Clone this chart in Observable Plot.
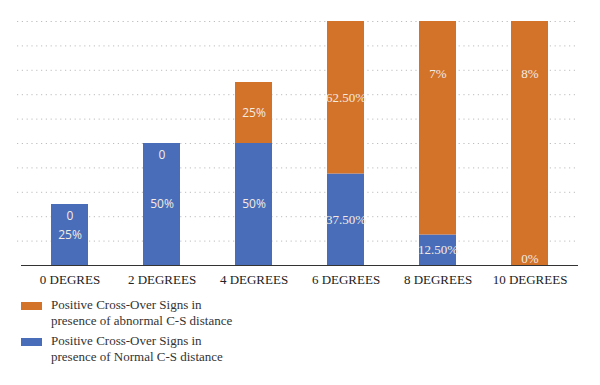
<!DOCTYPE html>
<html>
<head>
<meta charset="utf-8">
<script src="https://cdn.jsdelivr.net/npm/d3@7"></script>
<script src="https://cdn.jsdelivr.net/npm/@observablehq/plot@0.6"></script>
<style>
  body { margin: 0; background: #fff; font-family: "Liberation Serif", "Times New Roman", Times, serif; }
  #chart svg { display: block; }
  .legend { margin-top: 7px; padding-left: 21px; font-size: 13px; line-height: 16px; color: #333; }
  .item { display: flex; align-items: flex-start; margin-bottom: 4px; }
  .sw { width: 21px; height: 8px; margin-top: 5px; margin-right: 9px; flex: none; }
</style>
</head>
<body>
<div id="chart"></div>
<div class="legend" id="legend"></div>
<script>
const categories = ["0 DEGRES", "2 DEGREES", "4 DEGREES", "6 DEGREES", "8 DEGREES", "10 DEGREES"];
const normalValues = [25, 50, 50, 37.5, 12.5, 0];
const abnormalValues = [0, 0, 25, 62.5, 87.5, 100];
const normalLabels = ["25%", "50%", "50%", "37.50%", "12.50%", "0%"];
const abnormalLabels = ["0", "0", "25%", "62.50%", "7%", "8%"];
// label anchors (in % units) read from the picture where they are not centred
const abnormalLabelAt = [null, null, null, null, 78.75, 78.75];
const seriesNames = [
  "Positive Cross-Over Signs in presence of abnormal C-S distance",
  "Positive Cross-Over Signs in presence of Normal C-S distance"
];
const seriesColors = ["#d37229", "#4a6dba"];
const yTicks = [10, 20, 30, 40, 50, 60, 70, 80, 90, 100];

const blue = categories.map((c, i) => ({x: c, y1: 0, y2: normalValues[i], label: normalLabels[i], i}));
const orange = categories.map((c, i) => ({x: c, y1: normalValues[i], y2: normalValues[i] + abnormalValues[i], label: abnormalLabels[i], i}));

const sansFont = "'Open Sans', sans-serif";
const serifFont = "'Liberation Serif', 'Times New Roman', Times, serif";

const mid = d => d.y2 === d.y1 ? d.y1 : (d.y1 + d.y2) / 2;
const blueText = blue.map(d => ({...d, ym: mid(d), zero: d.y2 === d.y1}));
const orangeText = orange.map(d => ({...d, ym: abnormalLabelAt[d.i] != null ? abnormalLabelAt[d.i] : mid(d), zero: d.y2 === d.y1}));

const textMarks = (arr, zeroDy) => [
  Plot.text(arr.filter(d => !d.zero && d.i < 3), {x: "x", y: "ym", text: "label", fill: "#f4ece0", fontSize: 12, fontFamily: sansFont}),
  Plot.text(arr.filter(d => !d.zero && d.i >= 3), {x: "x", y: "ym", text: "label", fill: "#f4ece0", fontSize: 13, fontFamily: serifFont}),
  Plot.text(arr.filter(d => d.zero && d.i < 3), {x: "x", y: "ym", text: "label", fill: "#f4ece0", fontSize: 12, dy: zeroDy, fontFamily: sansFont}),
  Plot.text(arr.filter(d => d.zero && d.i >= 3), {x: "x", y: "ym", text: "label", fill: "#f4ece0", fontSize: 13, dy: zeroDy, fontFamily: serifFont})
];

const plot = Plot.plot({
  width: 600,
  height: 290,
  marginTop: 21,
  marginBottom: 25,
  marginLeft: 21,
  marginRight: 22,
  style: {fontFamily: serifFont, fontSize: "13px", color: "#222", background: "#fff"},
  x: {domain: categories, paddingInner: 0.6, paddingOuter: 0.3, label: null, tickSize: 0, tickPadding: 9},
  y: {domain: [0, 100], axis: null},
  marks: [
    Plot.ruleY(yTicks, {stroke: "#bdbdbd", strokeDasharray: "1.2,3.6", insetLeft: -4}),
    Plot.barY(blue, {x: "x", y1: "y1", y2: "y2", fill: seriesColors[1]}),
    Plot.barY(orange, {x: "x", y1: "y1", y2: "y2", fill: seriesColors[0]}),
    Plot.ruleY([0], {stroke: "#333", strokeWidth: 1}),
    ...textMarks(blueText, -7),
    ...textMarks(orangeText, 12)
  ]
});
document.getElementById("chart").appendChild(plot);

const legend = document.getElementById("legend");
seriesNames.forEach((name, k) => {
  const item = document.createElement("div");
  item.className = "item";
  const sw = document.createElement("div");
  sw.className = "sw";
  sw.style.background = seriesColors[k];
  const txt = document.createElement("div");
  const cut = name.indexOf(" presence");
  txt.innerHTML = name.slice(0, cut) + "<br>" + name.slice(cut + 1);
  item.appendChild(sw);
  item.appendChild(txt);
  legend.appendChild(item);
});
</script>
</body>
</html>
